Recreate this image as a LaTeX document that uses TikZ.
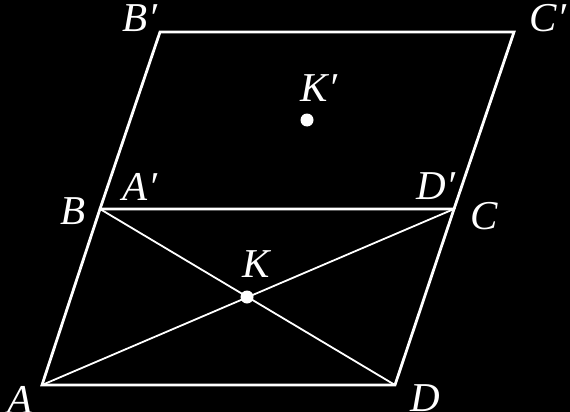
\documentclass[tikz,border=0pt]{standalone}
\usepackage{fontspec}
\setmainfont{Liberation Serif}
\begin{document}
\begin{tikzpicture}[x=1pt,y=-1pt,
  edge/.style={draw=white,line width=2.8pt,line join=miter},
  diag/.style={draw=white,line width=1.8pt},
  lbl/.style={text=white,font=\fontsize{41}{48}\selectfont\itshape,inner sep=0pt},
  pt/.style={circle,fill=white,inner sep=0pt,minimum size=13pt}]
\fill[black] (0,0) rectangle (570,412);
\useasboundingbox (0,0) rectangle (570,412);
\coordinate (A) at (42,385);
\coordinate (D) at (395,385);
\coordinate (B) at (100,209);
\coordinate (C) at (454,209);
\coordinate (B1) at (160,32);
\coordinate (C1) at (514,32);
\draw[diag] (A) -- (C);
\draw[diag] (B) -- (D);
\draw[edge] (A) -- (D) -- (C) -- (B) -- cycle;
\draw[edge] (B) -- (B1) -- (C1) -- (C);
\node[pt] (K) at (247,297) {};
\node[pt] (K1) at (307,120) {};
\node[lbl] (lA) at (20,400) {A};
\node[lbl] (lD) at (425,398) {D};
\node[lbl] (lB) at (73,211) {B};
\node[lbl] (lC) at (484,216) {C};
\node[lbl] (lB1) at (140,18) {B′};
\node[lbl] (lC1) at (548,18) {C′};
\node[lbl] (lA1) at (140,187) {A′};
\node[lbl] (lD1) at (436,186) {D′};
\node[lbl] (lK) at (256,264) {K};
\node[lbl] (lK1) at (319,88) {K′};
\end{tikzpicture}
\end{document}
